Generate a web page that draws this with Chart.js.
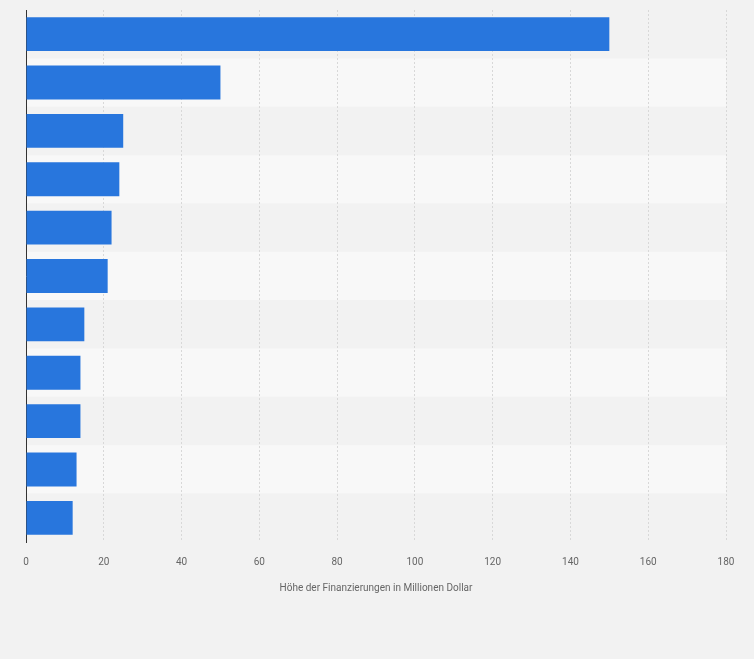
<!DOCTYPE html>
<html>
<head>
<meta charset="utf-8">
<script src="https://cdn.jsdelivr.net/npm/chart.js@4"></script>
<style>
    html, body { margin: 0; padding: 0; background: #f2f2f2; }
    #wrap { width: 754px; height: 659px; }
</style>
</head>
<body>
<div id="wrap"><canvas id="chart"></canvas></div>
<script>
// Daten (Kategorienamen sind im Bild nicht sichtbar)
const categories = ['', '', '', '', '', '', '', '', '', '', ''];
const fundingValues = [150, 50, 25, 24, 22, 21, 15, 14, 14, 13, 12];
const xTicks = [0, 20, 40, 60, 80, 100, 120, 140, 160, 180];

// Abwechselnde Hintergrundstreifen pro Zeile
const bandPlugin = {
    id: 'bands',
    beforeDraw: (chart) => {
        const { ctx, chartArea, scales } = chart;
        const y = scales.y;
        const n = categories.length;
        const step = (chartArea.bottom - chartArea.top) / n;
        ctx.save();
        for (let i = 0; i < n; i++) {
            ctx.fillStyle = i % 2 === 0 ? '#f2f2f2' : '#f8f8f8';
            const c = y.getPixelForValue(i);
            ctx.fillRect(chartArea.left, c - step / 2, chartArea.right - chartArea.left, step);
        }
        ctx.restore();
    }
};

new Chart(document.getElementById('chart'), {
    type: 'bar',
    data: {
        labels: categories,
        datasets: [{
            data: fundingValues,
            backgroundColor: '#2876dd',
            barPercentage: 0.7,
            categoryPercentage: 1.0
        }]
    },
    options: {
        indexAxis: 'y',
        responsive: true,
        maintainAspectRatio: false,
        animation: false,
        layout: { padding: { left: 18, right: 28, top: 10, bottom: 61 } },
        plugins: { legend: { display: false }, tooltip: { enabled: false } },
        scales: {
            x: {
                min: 0, max: 180,
                afterBuildTicks: (axis) => { axis.ticks = xTicks.map(v => ({ value: v })); },
                grid: { color: '#d8d8d8', borderDash: [2, 2], drawTicks: false },
                border: { display: false, dash: [2, 2] },
                ticks: { color: '#666', font: { family: 'Roboto', size: 10 }, padding: 14 },
                title: { display: true, text: 'Höhe der Finanzierungen in Millionen Dollar', color: '#666', font: { family: 'Roboto', size: 10 }, padding: { top: 0 } }
            },
            y: {
                grid: { display: false },
                border: { display: true, color: '#333', width: 1 },
                ticks: { display: false }
            }
        }
    },
    plugins: [bandPlugin]
});
</script>
</body>
</html>
